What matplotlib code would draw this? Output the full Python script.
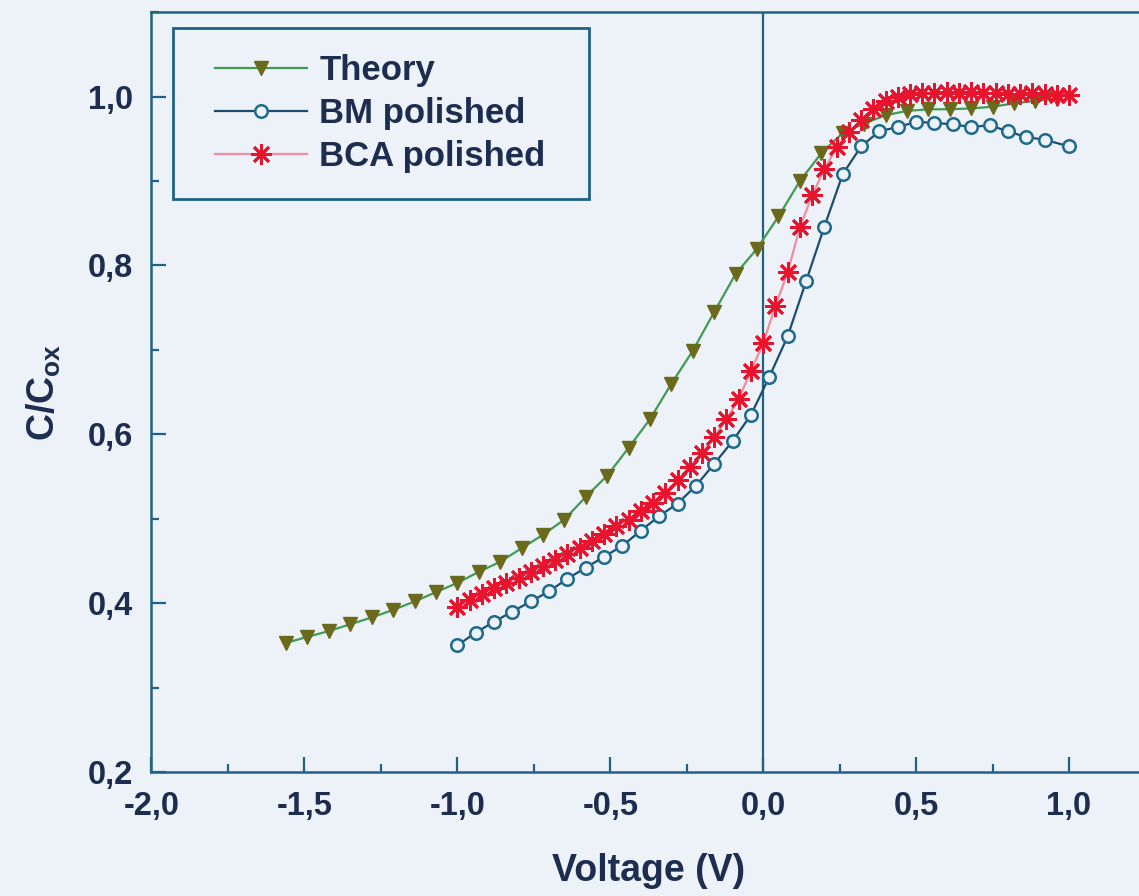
import numpy as np
import matplotlib
matplotlib.use("Agg")
import matplotlib.pyplot as plt
from matplotlib.ticker import MultipleLocator, FuncFormatter
from matplotlib.legend_handler import HandlerLine2D

# --- data ---
theory_v = [-1.56, -1.49, -1.42, -1.35, -1.28, -1.21, -1.14, -1.07, -1.00, -0.93,
            -0.86, -0.79, -0.72, -0.65, -0.58, -0.51, -0.44, -0.37, -0.30, -0.23,
            -0.16, -0.09, -0.02, 0.05, 0.12, 0.19, 0.26, 0.33, 0.40, 0.47,
            0.54, 0.61, 0.68, 0.75, 0.82, 0.89, 0.96]
theory_c = [0.353, 0.360, 0.367, 0.375, 0.383, 0.392, 0.402, 0.413, 0.424, 0.437,
            0.449, 0.465, 0.481, 0.499, 0.526, 0.551, 0.584, 0.618, 0.660, 0.699,
            0.745, 0.790, 0.820, 0.858, 0.900, 0.933, 0.957, 0.968, 0.978, 0.983,
            0.985, 0.985, 0.986, 0.988, 0.992, 0.995, 0.997]

bm_v = [-1.00, -0.94, -0.88, -0.82, -0.76, -0.70, -0.64, -0.58, -0.52, -0.46,
        -0.40, -0.34, -0.28, -0.22, -0.16, -0.10, -0.04, 0.02, 0.08, 0.14,
        0.20, 0.26, 0.32, 0.38, 0.44, 0.50, 0.56, 0.62, 0.68, 0.74,
        0.80, 0.86, 0.92, 1.00]
bm_c = [0.350, 0.365, 0.378, 0.390, 0.402, 0.414, 0.429, 0.442, 0.455, 0.468,
        0.486, 0.503, 0.518, 0.539, 0.565, 0.592, 0.623, 0.668, 0.716, 0.781,
        0.846, 0.908, 0.941, 0.959, 0.964, 0.970, 0.969, 0.967, 0.964, 0.966,
        0.959, 0.952, 0.949, 0.941]

bca_v = [-1.00, -0.96, -0.92, -0.88, -0.84, -0.80, -0.76, -0.72, -0.68, -0.64,
         -0.60, -0.56, -0.52, -0.48, -0.44, -0.40, -0.36, -0.32, -0.28, -0.24,
         -0.20, -0.16, -0.12, -0.08, -0.04, 0.00, 0.04, 0.08, 0.12, 0.16,
         0.20, 0.24, 0.28, 0.32, 0.36, 0.40, 0.44, 0.48, 0.52, 0.56,
         0.60, 0.64, 0.68, 0.72, 0.76, 0.80, 0.84, 0.88, 0.92, 0.96, 1.00]
bca_c = [0.396, 0.404, 0.411, 0.418, 0.424, 0.430, 0.437, 0.444, 0.451, 0.458,
         0.465, 0.474, 0.482, 0.491, 0.499, 0.509, 0.519, 0.531, 0.546, 0.561,
         0.578, 0.597, 0.618, 0.642, 0.675, 0.708, 0.752, 0.792, 0.845, 0.883,
         0.914, 0.940, 0.958, 0.972, 0.985, 0.995, 1.000, 1.003, 1.004, 1.004,
         1.005, 1.004, 1.005, 1.004, 1.004, 1.003, 1.003, 1.004, 1.003, 1.002, 1.002]

# --- styling ---
bg = '#edf2f8'
axis_col = '#1f6282'
text_col = '#1c2d4f'

plt.rcParams['font.family'] = ['Liberation Sans', 'DejaVu Sans']
plt.rcParams['font.weight'] = 'bold'
plt.rcParams['mathtext.fontset'] = 'custom'
plt.rcParams['mathtext.rm'] = 'Liberation Sans:bold'
plt.rcParams['mathtext.bf'] = 'Liberation Sans:bold'

fig = plt.figure(figsize=(11.39, 8.96), dpi=100, facecolor=bg)
ax = fig.add_axes([0.1330, 0.1384, 0.8727, 0.848], facecolor=bg)

ax.axvline(0.0, color=axis_col, lw=1.6, zorder=1)

ax.plot(theory_v, theory_c, color='#3f9a55', lw=1.6, marker='v', markersize=10.5,
        markerfacecolor='#6b6a1c', markeredgecolor='#6b6a1c', label='Theory', zorder=3)
ax.plot(bm_v, bm_c, color='#1c4d6e', lw=1.6, marker='o', markersize=9,
        markerfacecolor=bg, markeredgecolor='#1d6a8c', markeredgewidth=1.8,
        label='BM polished', zorder=2)
ax.plot(bca_v, bca_c, color='#f28ca0', lw=1.6, marker=(8, 2, 0), markersize=15,
        markeredgecolor='#e8142e', markerfacecolor='#e8142e', markeredgewidth=2.0,
        label='BCA polished', zorder=4)

ax.set_xlim(-2.0, 1.25)
ax.set_ylim(0.2, 1.1)

ax.xaxis.set_major_locator(MultipleLocator(0.5))
ax.xaxis.set_minor_locator(MultipleLocator(0.25))
ax.yaxis.set_major_locator(MultipleLocator(0.2))
ax.yaxis.set_minor_locator(MultipleLocator(0.1))
comma = FuncFormatter(lambda v, pos: f"{v:.1f}".replace('.', ','))
ax.xaxis.set_major_formatter(comma)
ax.yaxis.set_major_formatter(comma)

ax.tick_params(which='both', direction='in', color=axis_col, width=1.6,
               labelsize=23.5, labelcolor=text_col)
ax.tick_params(which='major', length=11)
ax.tick_params(which='minor', length=6)
ax.tick_params(axis='x', pad=14)
ax.tick_params(axis='y', pad=13)
for lab in ax.get_xticklabels() + ax.get_yticklabels():
    lab.set_fontweight('bold')

for s in ax.spines.values():
    s.set_color(axis_col)
    s.set_linewidth(1.8)

ax.set_xlabel('Voltage (V)', fontsize=27, fontweight='bold', color=text_col, labelpad=22)
ax.set_ylabel(r'$\mathbf{C/C_{ox}}$', fontsize=27, color=text_col, labelpad=18)

leg = ax.legend(loc='upper left', bbox_to_anchor=(0.022, 0.979, 0.418, 0.0),
                mode='expand', fontsize=25, frameon=True, fancybox=False,
                handlelength=3.1, handletextpad=0.35, borderpad=0.75,
                labelspacing=0.29, borderaxespad=0.0,
                handler_map={plt.Line2D: HandlerLine2D(xpad=0.45)})
leg.get_frame().set_edgecolor(axis_col)
leg.get_frame().set_linewidth(2.0)
leg.get_frame().set_facecolor(bg)
leg.get_frame().set_alpha(1.0)
for t in leg.get_texts():
    t.set_color(text_col)
    t.set_fontweight('bold')

fig.savefig('out.png', dpi=100, facecolor=bg)
